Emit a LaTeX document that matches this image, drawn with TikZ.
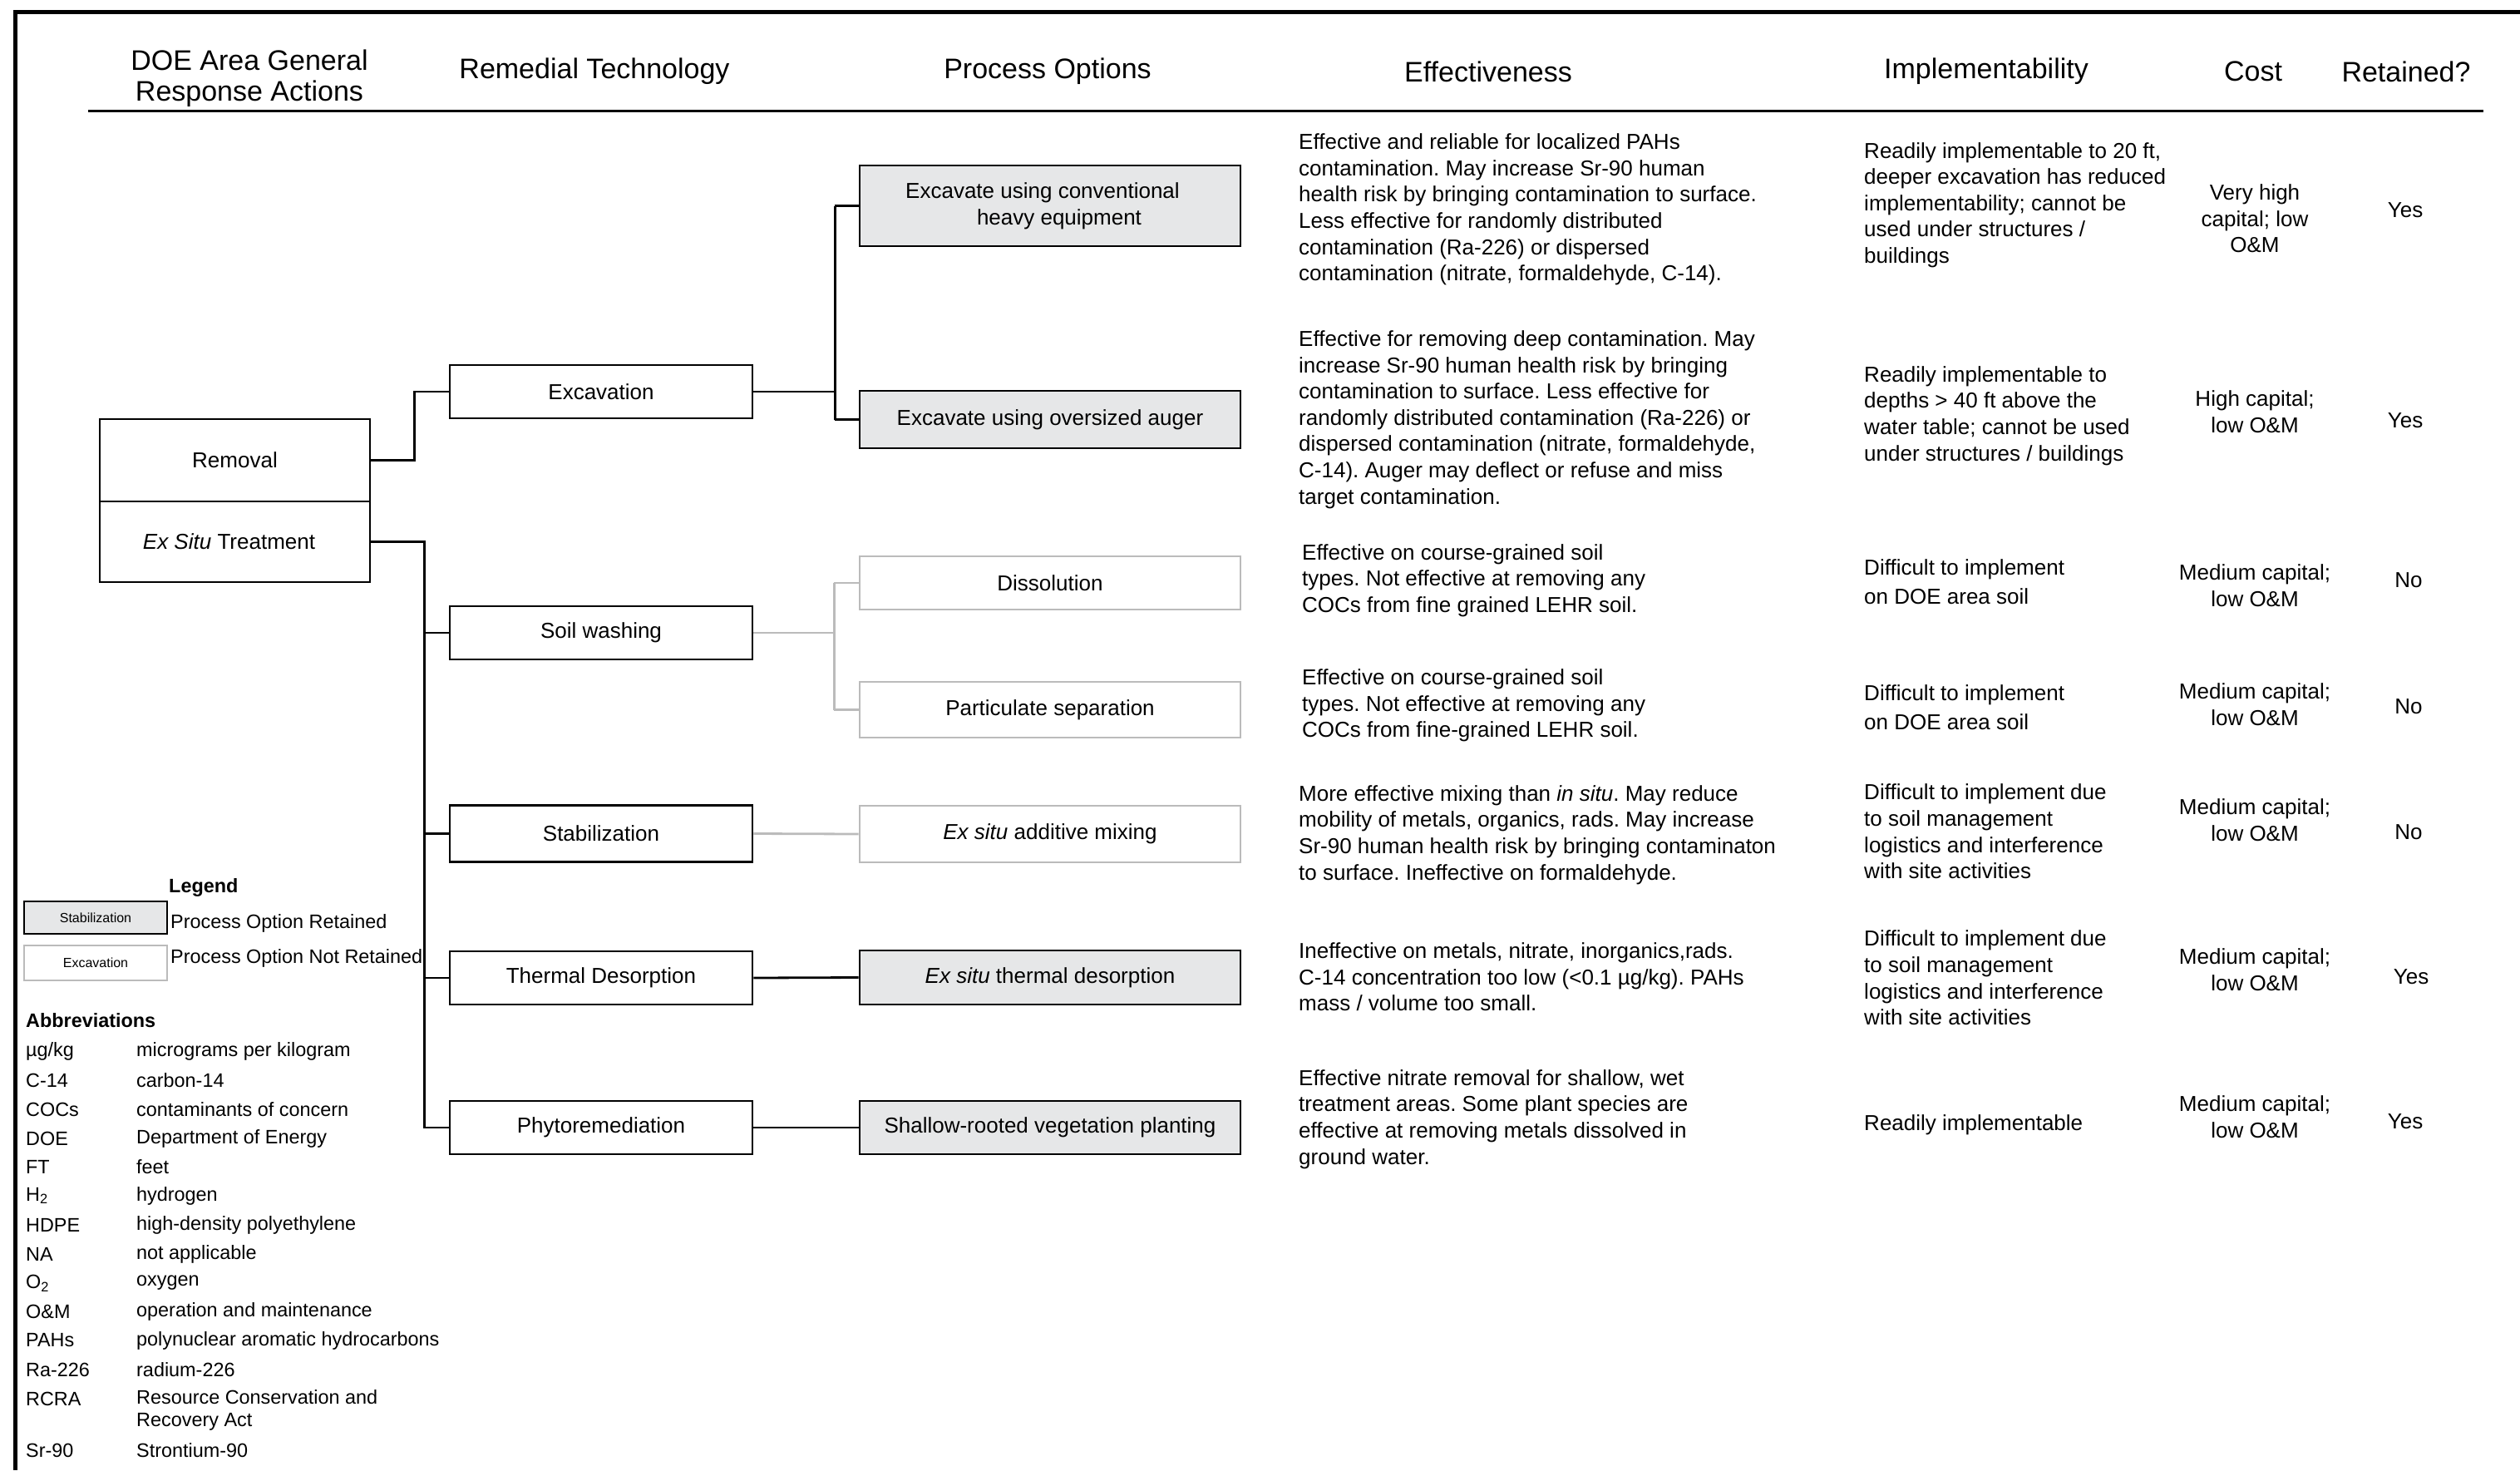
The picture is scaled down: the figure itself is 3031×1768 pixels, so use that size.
\documentclass[tikz,border=0pt]{standalone}
\usepackage{fontspec}
\setmainfont{Liberation Sans}
\frenchspacing
\newcommand\fsHead{\fontsize{34bp}{37bp}\selectfont}
\newcommand\fsBody{\fontsize{26bp}{31.6bp}\selectfont}
\newcommand\fsBodyWide{\fontsize{26bp}{35bp}\selectfont}
\newcommand\fsSmall{\fontsize{23.4bp}{27bp}\selectfont}
\newcommand\fsTiny{\fontsize{16bp}{18bp}\selectfont}
\definecolor{retfill}{HTML}{E6E7E8}
\definecolor{dropline}{HTML}{BBBBBB}
\tikzset{
  box/.style={draw=black, line width=2.8bp, fill=white, inner sep=0pt,
              align=center, font=\fsBody},
  treebox/.style={box, minimum width=325bp},
  techbox/.style={box, minimum width=364bp},
  keptbox/.style={box, fill=retfill, minimum width=458bp},
  dropbox/.style={box, draw=dropline, minimum width=458bp},
  link/.style={draw=black, line width=2.8bp},
  droplink/.style={draw=dropline, line width=2.8bp},
  head/.style={inner sep=0pt, align=center, font=\fsHead},
  txt/.style={inner sep=0pt, align=left, anchor=west, font=\fsBody},
  ctxt/.style={inner sep=0pt, align=center, font=\fsBody},
  small/.style={inner sep=0pt, align=left, anchor=west, font=\fsSmall},
}
\begin{document}
\begin{tikzpicture}[x=1bp, y=-1bp]
\useasboundingbox (0,0) rectangle (3031,1768);

% frame and header rule
\draw[line width=5bp] (16,14) -- (3031,14);
\draw[line width=5bp] (18.5,12) -- (18.5,1768);
\draw[line width=3bp] (106,133) -- (2987,133);

% column headings
\node[head] (hdoe)  at (300,94)  {DOE Area General\\Response Actions};
\node[head] (htech) at (715,86)  {Remedial Technology};
\node[head] (hproc) at (1260,86) {Process Options};
\node[head] (heff)  at (1790,86) {Effectiveness};
\node[head] (himp)  at (2389,86) {Implementability};
\node[head] (hcost) at (2710,86) {Cost};
\node[head] (hret)  at (2894,86) {Retained?};

% general response actions
\node[treebox, minimum height=99bp] (removal) at (282.5,553.5) {Removal};
\node[treebox, minimum height=97bp] (exsitu)  at (282.5,651.5) {\textit{Ex Situ} Treatment\hspace*{14bp}};

% remedial technologies
\node[techbox, minimum height=64bp] (excav)   at (723,471)    {Excavation};
\node[techbox, minimum height=64bp] (soil)    at (723,761)    {Soil washing};
\node[techbox, minimum height=68bp] (stab)    at (723,1002.5) {Stabilization};
\node[techbox, minimum height=64bp] (thermal) at (723,1176)   {Thermal Desorption};
\node[techbox, minimum height=64bp] (phyto)   at (723,1356)   {Phytoremediation};

% process options
\node[keptbox, minimum height=97bp] (conv)    at (1263,247.5)  {Excavate using conventional\hspace*{18bp}\\\hspace*{22bp}heavy equipment};
\node[keptbox, minimum height=69bp] (auger)   at (1263,504.5)  {Excavate using oversized auger};
\node[dropbox, minimum height=64bp] (diss)    at (1263,701)    {Dissolution};
\node[dropbox, minimum height=67bp] (part)    at (1263,853.5)  {Particulate separation};
\node[dropbox, minimum height=68bp] (addmix)  at (1263,1003)   {\textit{Ex situ} additive mixing};
\node[keptbox, minimum height=65bp] (exther)  at (1263,1175.5) {\textit{Ex situ} thermal desorption};
\node[keptbox, minimum height=64bp] (shallow) at (1263,1356)   {Shallow-rooted vegetation planting};

% connectors
\draw[link] (removal.east) -- ++(52,0) |- (excav.west);
\draw[link] (exsitu.east) -- ++(64,0) coordinate (bus) |- (phyto.west);
\draw[link] (bus |- soil.west) -- (soil.west);
\draw[link] (bus |- stab.west) -- (stab.west);
\draw[link] (bus |- thermal.west) -- (thermal.west);
\draw[link] (excav.east) -- ++(98,0) coordinate (exfork);
\draw[link] (exfork |- conv.west) -- (exfork |- auger.west);
\draw[link] (exfork |- conv.west) -- (conv.west);
\draw[link] (exfork |- auger.west) -- (auger.west);
\draw[droplink] (soil.east) -- ++(97,0) coordinate (swfork);
\draw[droplink] (swfork |- diss.west) -- (swfork |- part.west);
\draw[droplink] (swfork |- diss.west) -- (diss.west);
\draw[droplink] (swfork |- part.west) -- (part.west);
\draw[droplink] (stab.east) -- (addmix.west);
\draw[link] (thermal.east) -- (exther.west);
\draw[link] (phyto.east) -- (shallow.west);

% effectiveness
\node[txt] (e1) at (1562,252) {Effective and reliable for localized PAHs\\contamination. May increase Sr-90 human\\health risk by bringing contamination to surface.\\Less effective for randomly distributed\\contamination (Ra-226) or dispersed\\contamination (nitrate, formaldehyde, C-14).};
\node[txt] (e2) at (1562,504.5) {Effective for removing deep contamination. May\\increase Sr-90 human health risk by bringing\\contamination to surface. Less effective for\\randomly distributed contamination (Ra-226) or\\dispersed contamination (nitrate, formaldehyde,\\C-14). Auger may deflect or refuse and miss\\target contamination.};
\node[txt] (e3) at (1566,698) {Effective on course-grained soil\\types. Not effective at removing any\\COCs from fine grained LEHR soil.};
\node[txt] (e4) at (1566,848.6) {Effective on course-grained soil\\types. Not effective at removing any\\COCs from fine-grained LEHR soil.};
\node[txt] (e5) at (1562,1004) {More effective mixing than \textit{in situ}. May reduce\\mobility of metals, organics, rads. May increase\\Sr-90 human health risk by bringing contaminaton\\to surface. Ineffective on formaldehyde.};
\node[txt] (e6) at (1562,1175) {Ineffective on metals, nitrate, inorganics,rads.\\C-14 concentration too low (<0.1 µg/kg). PAHs\\mass / volume too small.};
\node[txt] (e7) at (1562,1346) {Effective nitrate removal for shallow, wet\\treatment areas. Some plant species are\\effective at removing metals dissolved in\\ground water.};

% implementability
\node[txt] (i1) at (2242,246.5) {Readily implementable to 20 ft,\\deeper excavation has reduced\\implementability; cannot be\\used under structures /\\buildings};
\node[txt] (i2) at (2242,500) {Readily implementable to\\depths > 40 ft above the\\water table; cannot be used\\under structures / buildings};
\node[txt, font=\fsBodyWide] (i3) at (2242,700) {Difficult to implement\\on DOE area soil};
\node[txt, font=\fsBodyWide] (i4) at (2242,850.5) {Difficult to implement\\on DOE area soil};
\node[txt] (i5) at (2242,1000) {Difficult to implement due\\to soil management\\logistics and interference\\with site activities};
\node[txt] (i6) at (2242,1176) {Difficult to implement due\\to soil management\\logistics and interference\\with site activities};
\node[txt] (i7) at (2242,1353) {Readily implementable};

% cost
\node[ctxt] (c1) at (2712,263)  {Very high\\capital; low\\O\&M};
\node[ctxt] (c2) at (2712,495)  {High capital;\\low O\&M};
\node[ctxt] (c3) at (2712,704)  {Medium capital;\\low O\&M};
\node[ctxt] (c4) at (2712,847)  {Medium capital;\\low O\&M};
\node[ctxt] (c5) at (2712,986)  {Medium capital;\\low O\&M};
\node[ctxt] (c6) at (2712,1166) {Medium capital;\\low O\&M};
\node[ctxt] (c7) at (2712,1343) {Medium capital;\\low O\&M};

% retained
\node[ctxt] (r1) at (2893,253)  {Yes};
\node[ctxt] (r2) at (2893,506)  {Yes};
\node[ctxt] (r3) at (2897,698)  {No};
\node[ctxt] (r4) at (2897,850)  {No};
\node[ctxt] (r5) at (2897,1001) {No};
\node[ctxt] (r6) at (2900,1175) {Yes};
\node[ctxt] (r7) at (2893,1349) {Yes};

% legend
\node[small, font=\fsSmall\bfseries] (legtitle) at (203,1067) {Legend};
\node[box, fill=retfill, font=\fsTiny, minimum width=172bp, minimum height=39bp] (legkept) at (115,1103.5) {Stabilization};
\node[box, draw=dropline, font=\fsTiny, minimum width=172bp, minimum height=42bp] (legdrop) at (115,1158) {Excavation};
\node[small] (legkepttxt) at (205,1110) {Process Option Retained};
\node[small] (legdroptxt) at (205,1152) {Process Option Not Retained};

% abbreviations
\node[small, font=\fsSmall\bfseries] (abbtitle) at (31,1227) {Abbreviations};
\node[small] (a1)  at (31,1264) {µg/kg};   \node[small] (d1)  at (164,1264) {micrograms per kilogram};
\node[small] (a2)  at (31,1299) {C-14};    \node[small] (d2)  at (164,1299) {carbon-14};
\node[small] (a3)  at (31,1334) {COCs};    \node[small] (d3)  at (164,1334) {contaminants of concern};
\node[small] (a4)  at (31,1369) {DOE};     \node[small] (d4)  at (164,1369) {Department of Energy};
\node[small] (a5)  at (31,1403) {FT};      \node[small] (d5)  at (164,1403) {feet};
\node[small] (a6)  at (31,1438) {H\textsubscript{2}}; \node[small] (d6) at (164,1438) {hydrogen};
\node[small] (a7)  at (31,1473) {HDPE};    \node[small] (d7)  at (164,1473) {high-density polyethylene};
\node[small] (a8)  at (31,1508) {NA};      \node[small] (d8)  at (164,1508) {not applicable};
\node[small] (a9)  at (31,1543) {O\textsubscript{2}}; \node[small] (d9) at (164,1543) {oxygen};
\node[small] (a10) at (31,1577) {O\&M};    \node[small] (d10) at (164,1577) {operation and maintenance};
\node[small] (a11) at (31,1612) {PAHs};    \node[small] (d11) at (164,1612) {polynuclear aromatic hydrocarbons};
\node[small] (a12) at (31,1647) {Ra-226};  \node[small] (d12) at (164,1647) {radium-226};
\node[small] (a13) at (31,1682) {RCRA};    \node[small] (d13) at (164,1695.5) {Resource Conservation and\\Recovery Act};
\node[small] (a14) at (31,1744) {Sr-90};   \node[small] (d14) at (164,1744) {Strontium-90};
\end{tikzpicture}
\end{document}
